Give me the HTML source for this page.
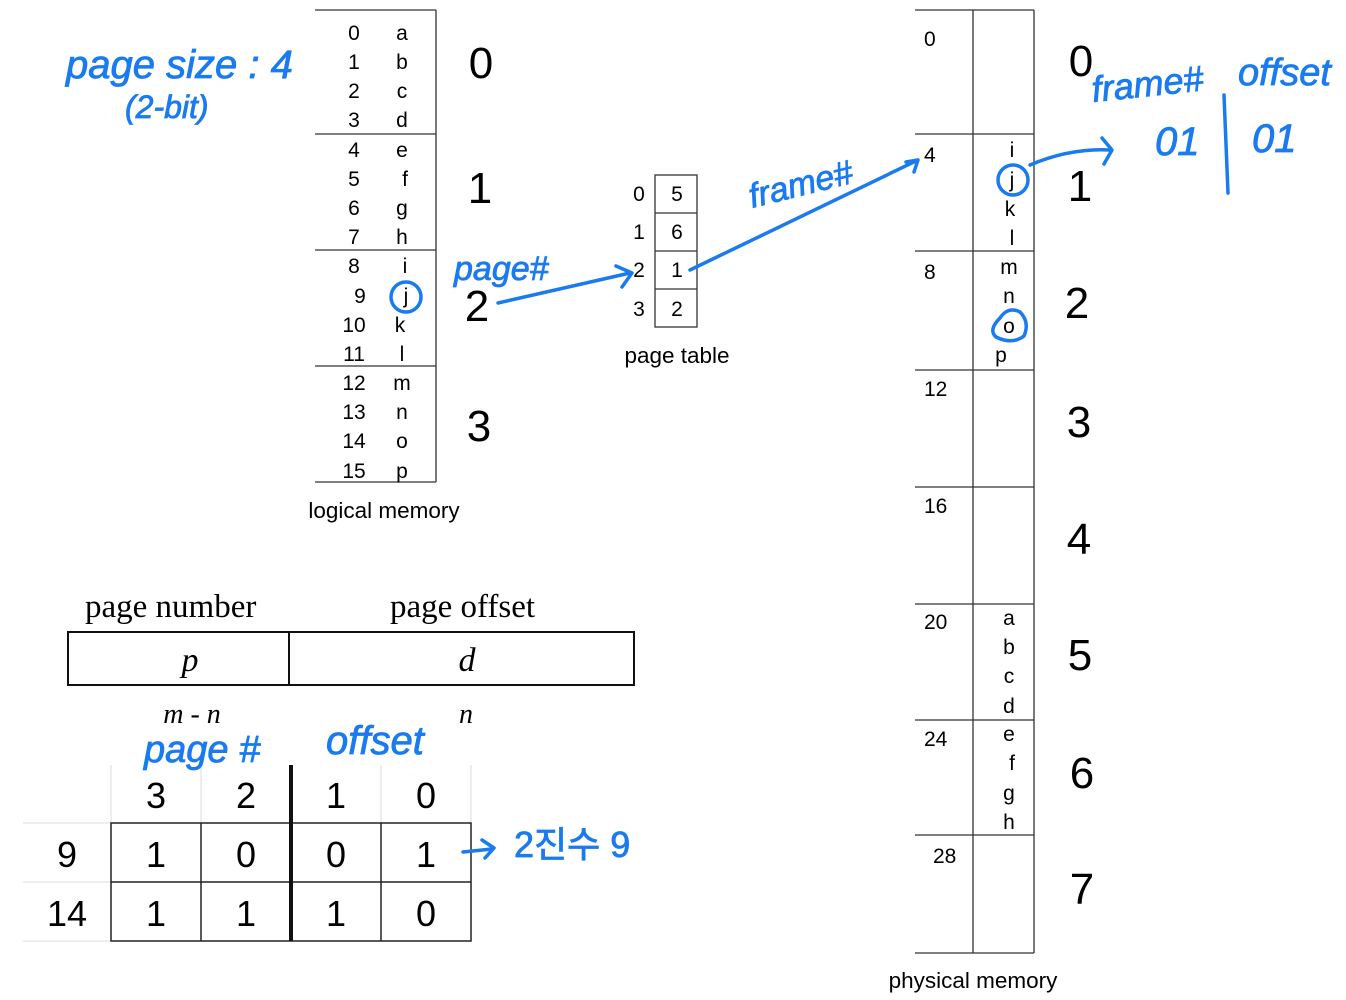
<!DOCTYPE html>
<html><head><meta charset="utf-8"><style>
html,body{margin:0;padding:0;background:#fff;}
svg{display:block;}
.s{font-family:"Liberation Sans",sans-serif;fill:#000;}
.r{font-family:"Liberation Serif",serif;fill:#000;}
.h{font-family:"Liberation Sans","Noto Sans CJK KR",sans-serif;fill:#1a7aef;font-style:italic;stroke:#1a7aef;stroke-width:0.8;}
</style></head><body>
<svg width="1346" height="1000" viewBox="0 0 1346 1000" xmlns="http://www.w3.org/2000/svg">
<!-- logical memory -->
<g stroke="#333" stroke-width="1.3" fill="none">
<line x1="315" y1="10" x2="436" y2="10"/><line x1="315" y1="134" x2="436" y2="134"/>
<line x1="315" y1="250" x2="436" y2="250"/><line x1="315" y1="366" x2="436" y2="366"/>
<line x1="315" y1="482" x2="436" y2="482"/><line x1="436" y1="10" x2="436" y2="482"/>
</g>
<g class="s" font-size="21" text-anchor="middle">
<text x="354" y="40">0</text><text x="402" y="40">a</text>
<text x="354" y="69">1</text><text x="402" y="69">b</text>
<text x="354" y="98">2</text><text x="402" y="98">c</text>
<text x="354" y="127">3</text><text x="402" y="127">d</text>
<text x="354" y="157">4</text><text x="402" y="157">e</text>
<text x="354" y="186">5</text><text x="405" y="186">f</text>
<text x="354" y="215">6</text><text x="402" y="215">g</text>
<text x="354" y="244">7</text><text x="402" y="244">h</text>
<text x="354" y="273">8</text><text x="405" y="273">i</text>
<text x="360" y="303">9</text><text x="406" y="303">j</text>
<text x="354" y="332">10</text><text x="400" y="332">k</text>
<text x="354" y="361">11</text><text x="402" y="361">l</text>
<text x="354" y="390">12</text><text x="402" y="390">m</text>
<text x="354" y="419">13</text><text x="402" y="419">n</text>
<text x="354" y="448">14</text><text x="402" y="448">o</text>
<text x="354" y="478">15</text><text x="402" y="478">p</text>
</g>
<g class="s" font-size="44" text-anchor="middle">
<text x="481" y="78">0</text><text x="480" y="203">1</text><text x="477" y="321">2</text><text x="479" y="441">3</text>
</g>
<text class="s" x="384" y="518" font-size="22.5" text-anchor="middle">logical memory</text>
<!-- page table -->
<g stroke="#333" stroke-width="1.3" fill="none">
<rect x="655" y="175" width="42" height="152"/>
<line x1="655" y1="213" x2="697" y2="213"/><line x1="655" y1="251" x2="697" y2="251"/><line x1="655" y1="289" x2="697" y2="289"/>
</g>
<g class="s" font-size="21" text-anchor="middle">
<text x="639" y="201">0</text><text x="677" y="201">5</text>
<text x="639" y="239">1</text><text x="677" y="239">6</text>
<text x="639" y="277">2</text><text x="677" y="277">1</text>
<text x="639" y="316">3</text><text x="677" y="316">2</text>
</g>
<text class="s" x="677" y="363" font-size="22.5" text-anchor="middle">page table</text>
<!-- physical memory -->
<g stroke="#333" stroke-width="1.3" fill="none">
<line x1="915" y1="10" x2="1034" y2="10"/><line x1="915" y1="134" x2="1034" y2="134"/>
<line x1="915" y1="251" x2="1034" y2="251"/><line x1="915" y1="370" x2="1034" y2="370"/>
<line x1="915" y1="487" x2="1034" y2="487"/><line x1="915" y1="604" x2="1034" y2="604"/>
<line x1="915" y1="720" x2="1034" y2="720"/><line x1="915" y1="835" x2="1034" y2="835"/>
<line x1="915" y1="953" x2="1034" y2="953"/>
<line x1="973" y1="10" x2="973" y2="953"/><line x1="1034" y1="10" x2="1034" y2="953"/>
</g>
<g class="s" font-size="21">
<text x="924" y="46">0</text><text x="924" y="162">4</text><text x="924" y="279">8</text>
<text x="924" y="396">12</text><text x="924" y="513">16</text><text x="924" y="629">20</text>
<text x="924" y="746">24</text><text x="933" y="863">28</text>
</g>
<g class="s" font-size="21" text-anchor="middle">
<text x="1012" y="157">i</text><text x="1012" y="187">j</text><text x="1010" y="216">k</text><text x="1012" y="245">l</text>
<text x="1009" y="274">m</text><text x="1009" y="303">n</text><text x="1009" y="333">o</text><text x="1001" y="362">p</text>
<text x="1009" y="625">a</text><text x="1009" y="654">b</text><text x="1009" y="683">c</text><text x="1009" y="713">d</text>
<text x="1009" y="741">e</text><text x="1012" y="770">f</text><text x="1009" y="800">g</text><text x="1009" y="829">h</text>
</g>
<g class="s" font-size="44" text-anchor="middle">
<text x="1081" y="76">0</text><text x="1080" y="201">1</text><text x="1077" y="318">2</text><text x="1079" y="437">3</text>
<text x="1079" y="554">4</text><text x="1080" y="670">5</text><text x="1082" y="788">6</text><text x="1082" y="904">7</text>
</g>
<text class="s" x="973" y="988" font-size="22.5" text-anchor="middle">physical memory</text>
<!-- bottom-left logical address -->
<text class="r" x="85" y="617" font-size="33">page number</text>
<text class="r" x="390" y="617" font-size="33">page offset</text>
<g stroke="#111" stroke-width="2" fill="none">
<rect x="68" y="632" width="566" height="53"/><line x1="289" y1="632" x2="289" y2="685"/>
</g>
<text class="r" x="190" y="671" font-size="34" font-style="italic" text-anchor="middle">p</text>
<text class="r" x="467" y="671" font-size="34" font-style="italic" text-anchor="middle">d</text>
<text class="r" x="192" y="723" font-size="28" font-style="italic" text-anchor="middle">m - n</text>
<text class="r" x="466" y="723" font-size="28" font-style="italic" text-anchor="middle">n</text>
<!-- bit table -->
<g stroke="#ddd" stroke-width="1">
<line x1="111" y1="765" x2="111" y2="823"/><line x1="201" y1="765" x2="201" y2="823"/>
<line x1="381" y1="765" x2="381" y2="823"/><line x1="471" y1="765" x2="471" y2="823"/>
<line x1="23" y1="823" x2="111" y2="823"/><line x1="23" y1="882" x2="111" y2="882"/><line x1="23" y1="941" x2="111" y2="941"/>
</g>
<g stroke="#222" stroke-width="1.5" fill="none">
<rect x="111" y="823" width="360" height="118"/>
<line x1="111" y1="882" x2="471" y2="882"/>
<line x1="201" y1="823" x2="201" y2="941"/><line x1="381" y1="823" x2="381" y2="941"/>
</g>
<line x1="291" y1="765" x2="291" y2="941" stroke="#111" stroke-width="4"/>
<g class="s" font-size="36" text-anchor="middle">
<text x="156" y="808">3</text><text x="246" y="808">2</text><text x="336" y="808">1</text><text x="426" y="808">0</text>
<text x="67" y="867">9</text><text x="156" y="867">1</text><text x="246" y="867">0</text><text x="336" y="867">0</text><text x="426" y="867">1</text>
<text x="67" y="926">14</text><text x="156" y="926">1</text><text x="246" y="926">1</text><text x="336" y="926">1</text><text x="426" y="926">0</text>
</g>
<!-- blue annotations -->
<g class="h">
<text x="66" y="78" font-size="40">page size : 4</text>
<text x="125" y="118" font-size="32">(2-bit)</text>
<text x="454" y="280" font-size="34">page#</text>
<text x="752" y="208" font-size="34" transform="rotate(-14 752 208)">frame#</text>
<text x="1093" y="102" font-size="36" transform="rotate(-6 1093 102)">frame#</text>
<text x="1238" y="85" font-size="38">offset</text>
<text x="1155" y="155" font-size="40">01</text>
<text x="1252" y="152" font-size="40">01</text>
<text x="144" y="762" font-size="38">page #</text>
<text x="326" y="754" font-size="40">offset</text>
<text x="514" y="857" font-size="36" font-style="normal">2진수 9</text>
</g>
<g stroke="#1a7aef" stroke-width="3.5" fill="none" stroke-linecap="round" stroke-linejoin="round">
<circle cx="406" cy="297" r="15"/>
<circle cx="1013" cy="180" r="15"/>
<path d="M1000 318 Q988 330 996 337 Q1012 345 1024 336 Q1030 322 1020 312 Q1008 306 1000 318"/>
<path d="M498 303 L630 273 M616 266 L632 273 L622 287"/>
<path d="M690 270 L918 160 M906 162 L918 160 L914 172"/>
<path d="M1030 165 Q1070 148 1110 150 M1102 138 L1112 150 L1104 164"/>
<path d="M1224 95 L1228 193"/>
<path d="M463 852 L492 849 M482 840 L494 848 L485 858"/>
</g>
</svg>
</body></html>
